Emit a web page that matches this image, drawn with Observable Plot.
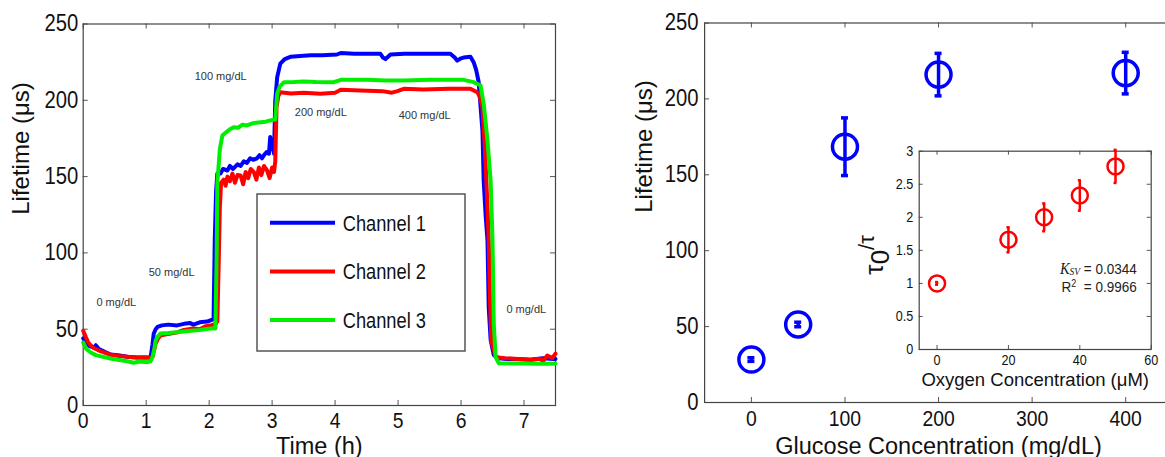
<!DOCTYPE html>
<html>
<head>
<meta charset="utf-8">
<script src="https://cdn.jsdelivr.net/npm/d3@7"></script>
<script src="https://cdn.jsdelivr.net/npm/@observablehq/plot@0.6"></script>
<style>
  html, body { margin: 0; padding: 0; background: #fff; }
  #wrap { position: relative; width: 1165px; height: 457px; overflow: hidden; background: #fff; }
  #wrap > svg, #wrap > div { position: absolute; }
</style>
</head>
<body>
<div id="wrap"></div>
<script>
// ---------------- DATA ----------------
const channelNames = ["Channel 1", "Channel 2", "Channel 3"];
const channelColors = ["#0000ff", "#ff0000", "#00ee00"];

// [time (h), lifetime (µs)]
const ch1Series = [[0,44],[0.05,41],[0.1,39],[0.17,38],[0.2,39.5],[0.25,37],[0.35,35],[0.43,33.5],[0.55,33],[0.7,32],[0.85,31.5],[1.02,31.5],[1.07,31.5],[1.1,40],[1.12,47],[1.15,50],[1.18,51.5],[1.25,52.5],[1.35,53],[1.49,52.5],[1.6,53.5],[1.7,54],[1.75,53],[1.85,54.5],[1.97,55],[2.03,56],[2.07,56.5],[2.09,110],[2.11,140],[2.13,152],[2.18,152],[2.22,155],[2.29,154],[2.33,157],[2.38,155],[2.45,158],[2.5,157],[2.55,160],[2.6,159],[2.65,162],[2.7,161],[2.76,162],[2.8,164],[2.84,162],[2.87,164],[2.91,166],[2.95,165],[2.97,176],[2.99,168],[3.01,170],[3.03,165],[3.05,200],[3.08,215],[3.13,224],[3.2,227],[3.29,228.5],[3.45,229],[3.61,229.5],[3.8,229.5],[4.03,230],[4.09,231],[4.3,230.5],[4.56,230.5],[4.72,230.5],[4.76,228],[4.8,227],[4.84,228.5],[4.88,230],[5.1,230.5],[5.36,230.5],[5.6,230.5],[5.83,230.5],[5.9,228],[5.94,226],[6.0,227.5],[6.04,228],[6.15,228.5],[6.2,225],[6.24,220],[6.28,212],[6.34,180],[6.36,147],[6.39,125],[6.42,108],[6.44,64],[6.47,43],[6.52,33],[6.6,31],[6.73,30.5],[6.9,30.5],[7.1,30],[7.3,31],[7.47,30.5],[7.5,30.5]];
const ch2Series = [[0,49],[0.04,45],[0.08,41.3],[0.15,38],[0.25,36],[0.35,34.5],[0.43,33.4],[0.55,32.5],[0.7,32],[0.85,31.5],[1.02,31.5],[1.1,31.7],[1.13,37],[1.15,40.6],[1.19,44],[1.23,45.9],[1.3,46.5],[1.39,47.2],[1.5,48],[1.6,49.5],[1.75,50.5],[1.85,50],[1.95,52],[2.02,52.4],[2.1,53.5],[2.13,55],[2.15,90],[2.17,130],[2.19,146],[2.23,148],[2.26,144],[2.29,150],[2.33,147],[2.37,152],[2.41,146],[2.45,151],[2.5,150.7],[2.54,145],[2.58,153],[2.62,149],[2.66,155],[2.71,152.9],[2.75,148],[2.79,156],[2.83,151],[2.87,157],[2.92,154],[2.96,149],[3.0,156],[3.03,153],[3.05,160],[3.07,195.5],[3.1,203],[3.13,205.3],[3.3,204.5],[3.5,205],[3.77,204.3],[4.0,205],[4.09,206.9],[4.4,206.5],[4.75,206],[4.9,205],[4.99,206],[5.09,207.5],[5.4,207],[5.8,207.5],[6.15,207.5],[6.26,205.3],[6.3,202],[6.34,195.5],[6.37,175],[6.39,158.6],[6.42,130],[6.44,108],[6.46,70],[6.48,42.6],[6.55,31.7],[6.7,31],[6.9,30.5],[7.1,30],[7.26,30.6],[7.3,29],[7.37,32.8],[7.45,31],[7.5,34]];
const ch3Series = [[0,41.3],[0.05,37],[0.12,34.7],[0.2,33],[0.3,32],[0.43,30.8],[0.55,30],[0.7,29],[0.8,28],[0.9,28.8],[1.02,28.4],[1.07,29],[1.1,31.7],[1.13,37],[1.15,42.6],[1.19,45.5],[1.23,47.2],[1.35,47.5],[1.49,48],[1.6,48.5],[1.75,49.1],[1.85,49.5],[2.02,50.5],[2.1,50.5],[2.12,100],[2.13,145.5],[2.17,168],[2.21,176.9],[2.27,179],[2.33,181],[2.39,182.4],[2.46,182],[2.53,184],[2.6,183.5],[2.7,185],[2.82,185.6],[2.9,186],[2.97,186.8],[3.05,187.4],[3.08,204.3],[3.12,209],[3.19,211.9],[3.35,212],[3.5,212.3],[3.7,212],[3.98,211.9],[4.09,213.4],[4.5,213.5],[4.8,213],[5.09,213],[5.5,213.5],[6.04,213.4],[6.2,211.9],[6.31,209.7],[6.36,197.7],[6.42,173.7],[6.47,147.4],[6.5,108.1],[6.52,53.5],[6.55,31.7],[6.6,27.7],[6.8,27.5],[7.0,27.5],[7.2,27.3],[7.47,27.3],[7.5,27.5]];

const annotLabels = ["0 mg/dL", "50 mg/dL", "100 mg/dL", "200 mg/dL", "400 mg/dL", "0 mg/dL"];
const annotTime   = [0.21, 1.04, 1.77, 3.36, 5.01, 6.72];
const annotLife   = [67.7, 87.4, 215.6, 192.2, 190, 62.7];

const glucoseConc = [0, 50, 100, 200, 400];
const glucoseLife = [28.3, 51.4, 168.5, 216, 217];
const glucoseErr  = [1.2, 1.5, 19, 14, 13.7];

const oxygenConc  = [0, 20, 30, 40, 50];
const oxygenRatio = [1.0, 1.66, 2.0, 2.33, 2.77];
const oxygenErr   = [0.02, 0.19, 0.21, 0.23, 0.25];

const timeTicks    = [0, 1, 2, 3, 4, 5, 6, 7];
const lifeTicks    = [0, 50, 100, 150, 200, 250];
const glucoseTicks = [0, 100, 200, 300, 400];
const ratioTicks   = [0, 0.5, 1, 1.5, 2, 2.5, 3];
const oxygenTicks  = [0, 20, 40, 60];

const ksvText = "0.0344";
const r2Text = "0.9966";

// ---------------- HELPERS ----------------
const sans = "'Liberation Sans', Arial, sans-serif";
const frameColor = "#444";
const fmt = d => String(d);

function boxTicks(xt, yt, innerW, innerH, len, color) {
  return [
    Plot.ruleX(xt, {x: d => d, insetTop: innerH - len, stroke: color}),
    Plot.ruleX(xt, {x: d => d, insetBottom: innerH - len, stroke: color}),
    Plot.ruleY(yt, {y: d => d, insetRight: innerW - len, stroke: color}),
    Plot.ruleY(yt, {y: d => d, insetLeft: innerW - len, stroke: color})
  ];
}
// horizontally condense a text element (the reference uses a narrow face)
function condense(el, k) {
  const L = el.getComputedTextLength();
  if (L > 0) {
    el.setAttribute("textLength", (L * k).toFixed(2));
    el.setAttribute("lengthAdjust", "spacingAndGlyphs");
  }
}
function condenseTicks(svg, k) {
  svg.querySelectorAll('g[aria-label$="tick label"] text').forEach(t => condense(t, k));
}

const wrap = document.getElementById("wrap");

// ---------------- LEFT PANEL ----------------
{
  const W = 580, H = 457, mL = 82.7, mR = 25, mT = 23.5, mB = 52;
  const iW = W - mL - mR, iH = H - mT - mB;
  const lineData = [];
  [ch1Series, ch2Series, ch3Series].forEach((s, i) =>
    s.forEach(([t, v]) => lineData.push({t, v, ch: channelNames[i]})));
  const annots = annotLabels.map((label, i) => ({label, t: annotTime[i], v: annotLife[i]}));

  const svg = Plot.plot({
    width: W, height: H, marginLeft: mL, marginRight: mR, marginTop: mT, marginBottom: mB,
    style: {fontFamily: sans, background: "transparent", overflow: "visible"},
    x: {domain: [0, 7.5]},
    y: {domain: [0, 250]},
    color: {domain: channelNames, range: channelColors},
    marks: [
      ...boxTicks(timeTicks, lifeTicks, iW, iH, 5, "#555"),
      Plot.frame({stroke: frameColor, strokeWidth: 1.2}),
      Plot.axisX(timeTicks, {tickSize: 0, tickPadding: 7, fontSize: 22, fill: "#111", label: null, tickFormat: fmt}),
      Plot.axisY(lifeTicks, {tickSize: 0, tickPadding: 5, fontSize: 23, fill: "#111", label: null, tickFormat: fmt}),
      Plot.line(lineData, {x: "t", y: "v", z: "ch", stroke: "ch", strokeWidth: 4, strokeLinejoin: "round"}),
      Plot.text(annots, {x: "t", y: "v", text: "label", textAnchor: "start", fontSize: 11, fill: "#333"}),
      Plot.text(["Time (h)"], {frameAnchor: "bottom", dy: 48, fontSize: 23.5, fill: "#111"}),
      Plot.text(["Lifetime (μs)"], {frameAnchor: "left", dx: -61.5, rotate: -90, fontSize: 24, fill: "#111"})
    ]
  });
  svg.style.left = "0px"; svg.style.top = "0px";
  wrap.appendChild(svg);
  condenseTicks(svg, 0.88);

  // legend box
  const leg = d3.select(wrap).append("svg")
    .attr("width", W).attr("height", H)
    .style("left", "0px").style("top", "0px");
  leg.append("rect").attr("x", 257).attr("y", 194).attr("width", 208).attr("height", 157)
    .attr("fill", "#fff").attr("stroke", "#555").attr("stroke-width", 1.5);
  channelNames.forEach((name, i) => {
    const cy = 222.7 + i * 48.7;
    leg.append("line").attr("x1", 270).attr("x2", 335).attr("y1", cy).attr("y2", cy)
      .attr("stroke", channelColors[i]).attr("stroke-width", 4);
    const t = leg.append("text").attr("x", 342.7).attr("y", cy + 7.8)
      .attr("font-family", sans).attr("font-size", 22).attr("fill", "#111").text(name);
    condense(t.node(), 0.83);
  });
}

// ---------------- RIGHT PANEL ----------------
{
  const W = 600, H = 457, mL = 104.1, mR = 28, mT = 22.5, mB = 55;
  const iW = W - mL - mR, iH = H - mT - mB;
  const pts = glucoseConc.map((c, i) => ({c, v: glucoseLife[i], e: glucoseErr[i]}));
  const blue = channelColors[0];
  const svg = Plot.plot({
    width: W, height: H, marginLeft: mL, marginRight: mR, marginTop: mT, marginBottom: mB,
    style: {fontFamily: sans, background: "transparent", overflow: "visible"},
    x: {domain: [-50, 450]},
    y: {domain: [0, 250]},
    marks: [
      ...boxTicks(glucoseTicks, lifeTicks, iW, iH, 5, "#555"),
      Plot.frame({stroke: frameColor, strokeWidth: 1.2}),
      Plot.axisX(glucoseTicks, {tickSize: 0, tickPadding: 8, fontSize: 22, fill: "#111", label: null, tickFormat: fmt}),
      Plot.axisY(lifeTicks, {tickSize: 0, tickPadding: 6, fontSize: 23, fill: "#111", label: null, tickFormat: fmt}),
      Plot.ruleX(pts, {x: "c", y1: d => d.v - d.e, y2: d => d.v + d.e, stroke: blue, strokeWidth: 3.5}),
      Plot.ruleY(pts, {y: d => d.v + d.e, x1: "c", x2: "c", insetLeft: -3.5, insetRight: -3.5, stroke: blue, strokeWidth: 3.5}),
      Plot.ruleY(pts, {y: d => d.v - d.e, x1: "c", x2: "c", insetLeft: -3.5, insetRight: -3.5, stroke: blue, strokeWidth: 3.5}),
      Plot.dot(pts, {x: "c", y: "v", r: 12.5, stroke: blue, strokeWidth: 3.5, fill: "none"}),
      Plot.text(["Glucose Concentration (mg/dL)"], {frameAnchor: "bottom", dy: 51, fontSize: 23.5, fill: "#111"}),
      Plot.text(["Lifetime (μs)"], {frameAnchor: "left", dx: -60, rotate: -90, fontSize: 24, fill: "#111"})
    ]
  });
  svg.style.left = "600px"; svg.style.top = "0px";
  wrap.appendChild(svg);
  condenseTicks(svg, 0.88);
}

// ---------------- INSET ----------------
{
  const W = 300, H = 270, mL = 58.7, mR = 9.3, mT = 20.7, mB = 51;
  const iW = W - mL - mR, iH = H - mT - mB;
  const pts = oxygenConc.map((c, i) => ({c, v: oxygenRatio[i], e: oxygenErr[i]}));
  const red = channelColors[1];
  const svg = Plot.plot({
    width: W, height: H, marginLeft: mL, marginRight: mR, marginTop: mT, marginBottom: mB,
    style: {fontFamily: sans, background: "transparent", overflow: "visible"},
    x: {domain: [-5, 60]},
    y: {domain: [0, 3]},
    marks: [
      ...boxTicks(oxygenTicks, ratioTicks, iW, iH, 4, "#555"),
      Plot.frame({stroke: frameColor, strokeWidth: 1.2}),
      Plot.axisX(oxygenTicks, {tickSize: 0, tickPadding: 5, fontSize: 14.5, fill: "#111", label: null, tickFormat: fmt}),
      Plot.axisY(ratioTicks, {tickSize: 0, tickPadding: 6, fontSize: 14.5, fill: "#111", label: null, tickFormat: fmt}),
      Plot.ruleX(pts, {x: "c", y1: d => d.v - d.e, y2: d => d.v + d.e, stroke: red, strokeWidth: 2.5}),
      Plot.ruleY(pts, {y: d => d.v + d.e, x1: "c", x2: "c", insetLeft: -1.5, insetRight: -1.5, stroke: red, strokeWidth: 2.5}),
      Plot.ruleY(pts, {y: d => d.v - d.e, x1: "c", x2: "c", insetLeft: -1.5, insetRight: -1.5, stroke: red, strokeWidth: 2.5}),
      Plot.dot(pts, {x: "c", y: "v", r: 8, stroke: red, strokeWidth: 2.5, fill: "none"}),
      Plot.text(["Oxygen Concentration (μM)"], {frameAnchor: "bottom", dy: 36, fontSize: 18.5, fill: "#111"})
    ]
  });
  svg.style.left = "860px"; svg.style.top = "130px";
  wrap.appendChild(svg);
  condenseTicks(svg, 0.87);

  const s = d3.select(svg);
  // y label τ0/τ
  const tl = s.append("text")
    .attr("transform", `translate(${mL - 42.7},${mT + iH / 2 + 5}) rotate(-90)`)
    .attr("text-anchor", "middle").attr("dominant-baseline", "middle")
    .attr("font-family", sans).attr("font-size", 26).attr("fill", "#111");
  tl.append("tspan").text("τ");
  tl.append("tspan").attr("baseline-shift", "-25%").text("0");
  tl.append("tspan").attr("baseline-shift", "35%").attr("font-size", 22).text("/τ");

  // K_SV and R²
  const xr = W - mR - 14;
  const k = s.append("text").attr("x", xr).attr("y", 143.5).attr("text-anchor", "end")
    .attr("font-family", sans).attr("font-size", 15).attr("fill", "#222");
  k.append("tspan").attr("font-family", "'Liberation Serif', serif").attr("font-style", "italic").attr("font-size", 16).text("K");
  k.append("tspan").attr("font-family", "'Liberation Serif', serif").attr("font-style", "italic").attr("font-size", 10.5).attr("baseline-shift", "-12%").text("SV");
  k.append("tspan").text(" = " + ksvText);
  condense(k.node(), 0.9);
  const r = s.append("text").attr("x", xr).attr("y", 162).attr("text-anchor", "end")
    .attr("font-family", sans).attr("font-size", 15).attr("fill", "#222");
  r.append("tspan").text("R");
  r.append("tspan").attr("font-size", 10).attr("baseline-shift", "super").text("2");
  r.append("tspan").text("  = " + r2Text);
  condense(r.node(), 0.9);
}
</script>
</body>
</html>
